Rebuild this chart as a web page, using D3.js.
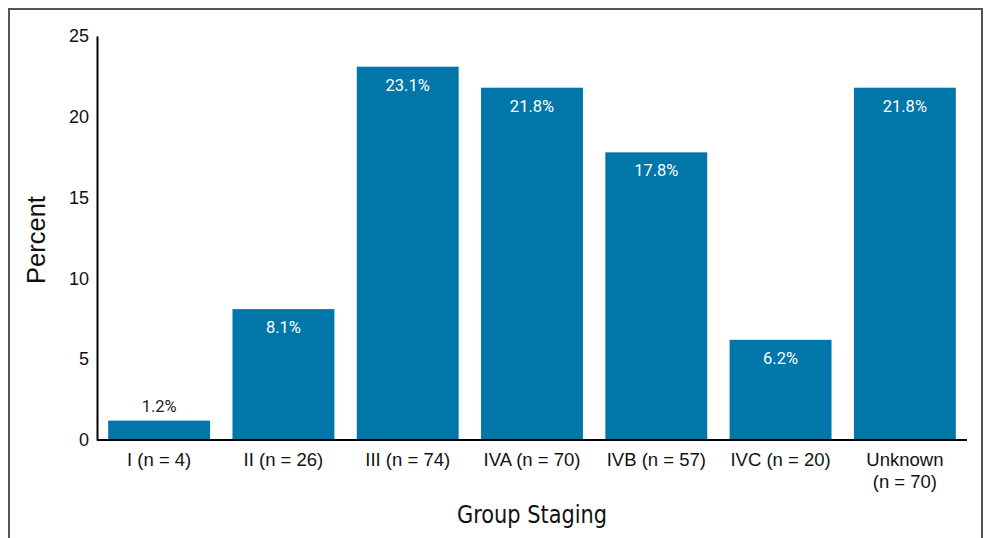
<!DOCTYPE html>
<html>
<head>
<meta charset="utf-8">
<script src="https://cdn.jsdelivr.net/npm/d3@7/dist/d3.min.js"></script>
<style>
  html, body { margin: 0; padding: 0; background: #fff; }
  svg { display: block; }
</style>
</head>
<body>
<svg id="chart" width="987" height="538"></svg>
<script>
// Stage categories (label lines) and the percent of patients in each
const categories = ["I (n = 4)", "II (n = 26)", "III (n = 74)", "IVA (n = 70)", "IVB (n = 57)", "IVC (n = 20)", "Unknown\n(n = 70)"];
const percents = [1.2, 8.1, 23.1, 21.8, 17.8, 6.2, 21.8];
const yTicks = [0, 5, 10, 15, 20, 25];

const data = categories.map((c, i) => ({ cat: c, value: percents[i] }));

const svg = d3.select("#chart");
const W = 987, H = 538;
const margin = { left: 97, right: 20, top: 36, bottom: 98 };

// outer frame
svg.append("path")
  .attr("d", `M9,${H + 5} V9 H982 V${H + 5}`)
  .attr("fill", "none")
  .attr("stroke", "#555")
  .attr("stroke-width", 2);

const x = d3.scaleBand()
  .domain(categories)
  .range([margin.left, W - margin.right])
  .paddingInner(0.18)
  .paddingOuter(0.09);

const y = d3.scaleLinear()
  .domain([0, 25])
  .range([H - margin.bottom, margin.top]);

const barColor = "#0176a8";

// bars
svg.append("g").selectAll("rect")
  .data(data)
  .join("rect")
  .attr("x", d => x(d.cat))
  .attr("y", d => y(d.value))
  .attr("width", x.bandwidth())
  .attr("height", d => y(0) - y(d.value))
  .attr("fill", barColor);

// value labels: inside tall bars, above short ones
svg.append("g").selectAll("text")
  .data(data)
  .join("text")
  .attr("x", d => x(d.cat) + x.bandwidth() / 2)
  .attr("y", d => d.value > 3 ? y(d.value) + 24 : y(d.value) - 9)
  .attr("text-anchor", "middle")
  .attr("font-family", "Roboto, 'Noto Sans', sans-serif")
  .attr("font-size", 16.5)
  .attr("fill", d => d.value > 3 ? "#fff" : "#222")
  .text(d => d.value.toFixed(1) + "%");

// y axis: line with labels, no tick marks
const yAxis = svg.append("g")
  .attr("transform", `translate(${margin.left},0)`)
  .call(d3.axisLeft(y).tickValues(yTicks).tickSize(0).tickPadding(8));
yAxis.select(".domain").attr("stroke", "#000").attr("stroke-width", 2);
yAxis.selectAll("text")
  .attr("font-family", "'Liberation Sans', Arial, sans-serif")
  .attr("font-size", 18)
  .attr("fill", "#111");

// x axis
const xAxis = svg.append("g")
  .attr("transform", `translate(0,${y(0)})`)
  .call(d3.axisBottom(x).tickSize(0).tickPadding(13));
xAxis.select(".domain").attr("stroke", "#000").attr("stroke-width", 2)
  .attr("d", `M${margin.left},0H${W - margin.right}`);
xAxis.selectAll(".tick text")
  .attr("font-family", "'Liberation Sans', Arial, sans-serif")
  .attr("font-size", 18.5)
  .attr("fill", "#111")
  .each(function (d) {
    const lines = d.split("\n");
    const t = d3.select(this).text(null);
    lines.forEach((ln, i) => {
      t.append("tspan").attr("x", 0).attr("dy", i === 0 ? "0.71em" : "1.2em").text(ln);
    });
  });

// axis titles
svg.append("text")
  .attr("transform", "translate(532,523) scale(0.93,1)")
  .attr("text-anchor", "middle")
  .attr("font-family", "'Liberation Sans Narrow', 'DejaVu Sans Condensed', sans-serif")
  .attr("font-size", 25)
  .attr("fill", "#111")
  .text("Group Staging");

svg.append("text")
  .attr("transform", "translate(45,240) rotate(-90)")
  .attr("text-anchor", "middle")
  .attr("font-family", "'Liberation Sans', Arial, sans-serif")
  .attr("font-size", 25.5)
  .attr("fill", "#111")
  .text("Percent");
</script>
</body>
</html>
